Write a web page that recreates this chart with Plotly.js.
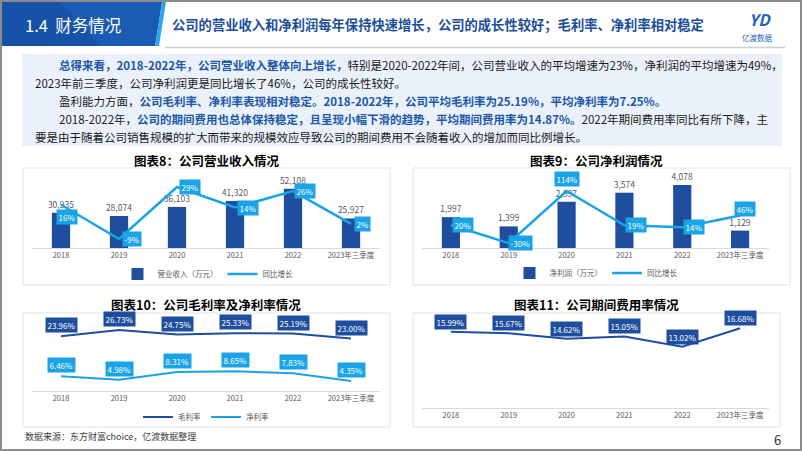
<!DOCTYPE html>
<html><head><meta charset="utf-8">
<script src="https://cdn.plot.ly/plotly-3.0.1.min.js"></script>
<style>html,body{margin:0;padding:0;background:#fff;overflow:hidden}#chart{width:802px;height:451px}</style>
</head><body><div id="chart"></div>
<script>
// ---------------- DATA ----------------
const years = ['2018','2019','2020','2021','2022','2023年三季度'];
const revenue = [30935,28074,36103,41320,52108,25927];        // 营业收入（万元）
const revenueGrowth = [16,-9,29,14,26,2];                     // 同比增长 %
const netProfit = [1997,1399,2997,3574,4078,1129];            // 净利润（万元）
const profitGrowth = [20,-30,114,19,14,46];                   // 同比增长 %
const grossMargin = [23.96,26.73,24.75,25.33,25.19,23.00];    // 毛利率 %
const netMargin = [6.46,4.98,8.31,8.65,7.83,4.35];            // 净利率 %
const expenseRate = [15.99,15.67,14.62,15.05,13.02,16.68];    // 期间费用率 %

// ---------------- STYLE ----------------
const W = 802, H = 451;
const X = p => p / W;
const Y = p => 1 - p / H;
const FONT = 'Noto Sans CJK SC, Noto Sans, sans-serif';
const DARK = '#1F4E9E';
const CYAN = '#1AA3E6';
const GREY = '#595959';

const traces = [
  {type:'bar', x:years, y:revenue, xaxis:'x', yaxis:'y', name:'营业收入（万元）', legend:'legend',
   marker:{color:DARK}, text:revenue.map(v=>v.toLocaleString('en-US')), textposition:'outside', constraintext:'none',
   textfont:{size:8.5,color:GREY}, cliponaxis:false, hoverinfo:'skip'},
  {type:'scatter', mode:'lines', x:years, y:revenueGrowth, xaxis:'x', yaxis:'y2', name:'同比增长', legend:'legend',
   line:{color:CYAN,width:2.5}, cliponaxis:false, hoverinfo:'skip'},
  {type:'bar', x:years, y:netProfit, xaxis:'x2', yaxis:'y3', name:'净利润（万元）', legend:'legend2',
   marker:{color:DARK}, text:netProfit.map(v=>v.toLocaleString('en-US')), textposition:'outside', constraintext:'none',
   textfont:{size:8.5,color:GREY}, cliponaxis:false, hoverinfo:'skip'},
  {type:'scatter', mode:'lines', x:years, y:profitGrowth, xaxis:'x2', yaxis:'y4', name:'同比增长', legend:'legend2',
   line:{color:CYAN,width:2.5}, cliponaxis:false, hoverinfo:'skip'},
  {type:'scatter', mode:'lines', x:years, y:grossMargin, xaxis:'x3', yaxis:'y5', name:'毛利率', legend:'legend3',
   line:{color:DARK,width:2}, cliponaxis:false, hoverinfo:'skip'},
  {type:'scatter', mode:'lines', x:years, y:netMargin, xaxis:'x3', yaxis:'y5', name:'净利率', legend:'legend3',
   line:{color:CYAN,width:2}, cliponaxis:false, hoverinfo:'skip'},
  {type:'scatter', mode:'lines', x:years, y:expenseRate, xaxis:'x4', yaxis:'y6', name:'期间费用率', showlegend:false,
   line:{color:DARK,width:2}, cliponaxis:false, hoverinfo:'skip'}
];

function xAx(l, r, anchor){
  return {domain:[X(l),X(r)], anchor:anchor, type:'category', range:[-0.5,5.5], showgrid:false, zeroline:false,
    showline:true, linecolor:'#D9D9D9', linewidth:1, ticks:'', tickfont:{size:7.5,color:GREY}, fixedrange:true};
}
function yAx(t, b, range, anchor, over){
  const a = {domain:[Y(b),Y(t)], range:range, anchor:anchor, visible:false, showgrid:false, zeroline:false, fixedrange:true};
  if (over) { a.overlaying = over; delete a.domain; }
  return a;
}
function leg(cx, cy){
  return {orientation:'h', x:X(cx), xanchor:'center', y:Y(cy), yanchor:'middle',
    font:{size:7.5,color:GREY,family:FONT}, bgcolor:'rgba(0,0,0,0)', itemwidth:30, tracegroupgap:0};
}

// label offsets (style only)
const offs8 = [[6,-12],[13,0],[13,0],[13,0],[12,0],[11,0]];
const offs9 = [[12,0],[12,0],[0,12],[12,0],[12,0],[5,7]];

const annotations = [];
function boxLabels(xref, yref, vals, fmt, bg, offs){
  vals.forEach((v,i)=>{
    // category axes take the serial index of the category for annotations
    annotations.push({xref:xref, yref:yref, x:years.indexOf(years[i]), y:v, text:fmt(v), showarrow:false,
      xshift:offs[i][0], yshift:offs[i][1], bgcolor:bg, borderpad:1.5,
      font:{size:8,color:'#FFFFFF',family:FONT}});
  });
}
boxLabels('x','y2',revenueGrowth, v=>v+'%', CYAN, offs8);
boxLabels('x2','y4',profitGrowth, v=>v+'%', CYAN, offs9);
boxLabels('x3','y5',grossMargin, v=>v.toFixed(2)+'%', DARK, years.map(()=>[0,11]));
boxLabels('x3','y5',netMargin, v=>v.toFixed(2)+'%', CYAN, years.map(()=>[0,11]));
boxLabels('x4','y6',expenseRate, v=>v.toFixed(2)+'%', DARK, years.map(()=>[0,10]));

function txt(x, y, text, size, color, anchor, extra){
  annotations.push(Object.assign({xref:'paper', yref:'paper', x:X(x), y:Y(y), text:text, showarrow:false,
    xanchor:anchor||'left', yanchor:'middle', font:{size:size,color:color,family:FONT}}, extra||{}));
}
const B = s => '<span style="color:#1C57A8"><b>'+s+'</b></span>';
// header
txt(23, 25, '1.4  财务情况', 16.5, '#FFFFFF');
txt(170, 24, '<b>公司的营业收入和净利润每年保持快速增长，公司的成长性较好；毛利率、净利率相对稳定</b>', 13.3, '#1B4F9C');
txt(760, 19, '<b><i>YD</i></b>', 16, '#1E63C4', 'center');
txt(757, 37, '亿渡数据', 7.5, '#1E63C4', 'center');
// text block
const TB = 11.5, TC = '#1A1A1A';
txt(57, 65, B('总得来看，2018-2022年，公司营业收入整体向上增长，')+'特别是2020-2022年间，公司营业收入的平均增速为23%，净利润的平均增速为49%，', TB, TC);
txt(33, 83, '2023年前三季度，公司净利润更是同比增长了46%，公司的成长性较好。', TB, TC);
txt(57, 101, '盈利能力方面，'+B('公司毛利率、净利率表现相对稳定。2018-2022年，公司平均毛利率为25.19%，平均净利率为7.25%。'), TB, TC);
txt(57, 119, '2018-2022年，'+B('公司的期间费用也总体保持稳定，且呈现小幅下滑的趋势，平均期间费用率为14.87%。')+'2022年期间费用率同比有所下降，主', TB, TC);
txt(33, 137, '要是由于随着公司销售规模的扩大而带来的规模效应导致公司的期间费用不会随着收入的增加而同比例增长。', TB, TC);
// chart titles
txt(206, 161, '<b>图表8：公司营业收入情况</b>', 12.5, '#000000', 'center');
txt(596, 161, '<b>图表9：公司净利润情况</b>', 12.5, '#000000', 'center');
txt(206, 304, '<b>图表10：公司毛利率及净利率情况</b>', 12.5, '#000000', 'center');
txt(596, 304, '<b>图表11：公司期间费用率情况</b>', 12.5, '#000000', 'center');
// footer
txt(23, 436, '数据来源：东方财富choice，亿渡数据整理', 9, '#404040');
txt(777, 439, '6', 13, '#333333', 'center');

function rect(x0,y0,x1,y1,fill,line,lw,layer){
  return {type:'rect', xref:'paper', yref:'paper', x0:X(x0), x1:X(x1), y0:Y(y1), y1:Y(y0),
    fillcolor:fill||'rgba(0,0,0,0)', line:{color:line||'rgba(0,0,0,0)', width:lw||0}, layer:layer||'below'};
}
function poly(pts, fill){
  return {type:'path', xref:'paper', yref:'paper',
    path:'M'+pts.map(p=>X(p[0])+','+Y(p[1])).join(' L')+' Z', fillcolor:fill, line:{width:0}, layer:'above'};
}
const shapes = [
  rect(22,54,782,146,'#EAF1FB'),
  rect(23,168,390,285,null,'#E3E3E3',1),
  rect(413,168,790,285,null,'#E3E3E3',1),
  rect(23,313,390,427,null,'#E3E3E3',1),
  rect(413,313,780,427,null,'#E3E3E3',1),
  poly([[2,2],[162,2],[155,46],[2,46]], '#1552A8'),
  poly([[60,2],[162,2],[155,46],[100,46]], 'rgba(40,110,200,0.35)'),
  poly([[162,2],[166,2],[159,46],[155,46]], '#2AA8E8'),
  {type:'line', xref:'paper', yref:'paper', x0:X(165), x1:X(785), y0:Y(47.5), y1:Y(47.5), line:{color:'#D0D0D0',width:1.5}},
  {type:'rect', xref:'paper', yref:'paper', x0:X(1), x1:X(801), y0:Y(450), y1:Y(1), line:{color:'#8C8C8C',width:2}, fillcolor:'rgba(0,0,0,0)', layer:'above'}
];

const layout = {
  width:W, height:H, margin:{l:0,r:0,t:0,b:0}, paper_bgcolor:'#FFFFFF', plot_bgcolor:'rgba(0,0,0,0)',
  font:{family:FONT, color:GREY}, bargap:0.685, showlegend:true,
  xaxis: xAx(32,380,'y'),
  yaxis: yAx(179,248,[0,60600],'x'),
  yaxis2: yAx(179,248,[-15.55,34.8],'x','y'),
  xaxis2: xAx(422,769,'y3'),
  yaxis3: yAx(179,248,[0,4470],'x2'),
  yaxis4: yAx(179,248,[-43.6,147],'x2','y3'),
  xaxis3: xAx(32,380,'y5'),
  yaxis5: yAx(318,391,[0,32],'x3'),
  xaxis4: xAx(422,769,'y6'),
  yaxis6: yAx(318,408,[0.89,18.71],'x4'),
  legend: leg(208,274),
  legend2: leg(596,273),
  legend3: leg(206,417),
  annotations: annotations,
  shapes: shapes
};
Plotly.newPlot('chart', traces, layout, {staticPlot:true, displayModeBar:false});
</script></body></html>
